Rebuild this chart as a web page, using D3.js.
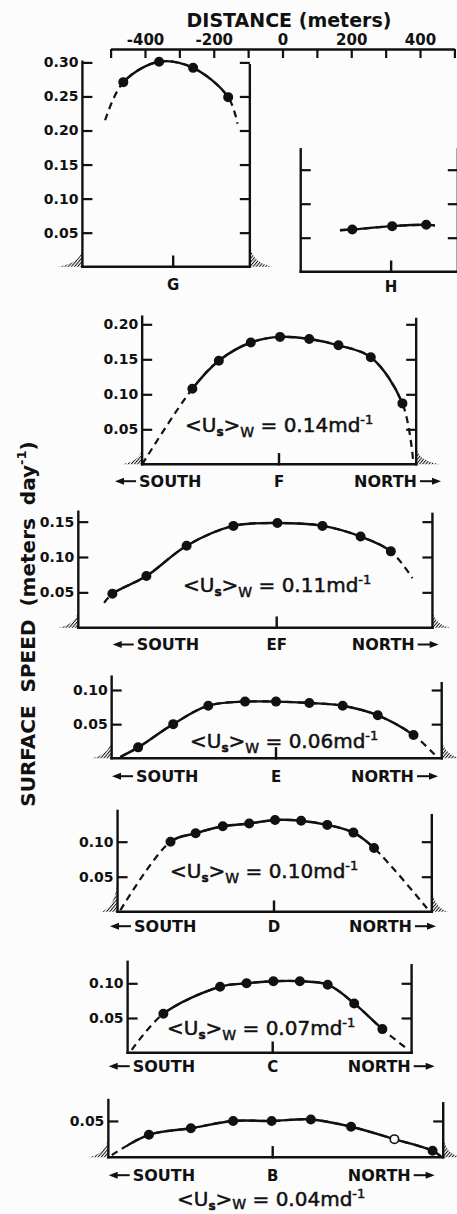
<!DOCTYPE html>
<html>
<head>
<meta charset="utf-8">
<script src="https://cdn.jsdelivr.net/npm/d3@7"></script>
<style>
body { margin: 0; background: #fcfcfc; }
svg { display: block; }
text { font-family: "DejaVu Sans", sans-serif; fill: #111; }
</style>
</head>
<body>
<div id="chart"></div>
<script>
// distance along the top axis (meters)
var distTicks = [-500, -400, -300, -200, -100, 0, 100, 200, 300, 400, 500];
var distLabels = [-400, -200, 0, 200, 400];

// width-averaged speed printed in each panel (m/day)
var meanNames = ["F", "EF", "E", "D", "C", "B"];
var meanValues = [0.14, 0.11, 0.06, 0.10, 0.07, 0.04];

// profiles: distance (m) from section centre, surface speed (m/day)
var distG = [-463, -359, -260, -158];
var speedG = [0.271, 0.301, 0.292, 0.249];
var endsG = [[-516, 0.215], [-131, 0.210]];
var edgesG = [-582, -95];
var ticksG = [0.05, 0.10, 0.15, 0.20, 0.25, 0.30];

var distH = [203, 319, 418];
var speedH = [0.062, 0.067, 0.069];
var endsH = [[167, 0.061], [444, 0.068]];
var edgesH = [53, 510];
var ticksH = [0.05, 0.10, 0.15];

var distF = [-252, -175, -82, 3, 88, 173, 267, 359];
var speedF = [0.108, 0.148, 0.174, 0.182, 0.179, 0.170, 0.153, 0.087];
var endsF = [[-398, 0.0], [390, 0.006]];
var edgesF = [-398, 399];
var ticksF = [0.05, 0.10, 0.15, 0.20];

var distEF = [-478, -379, -262, -126, 2, 133, 244, 332];
var speedEF = [0.048, 0.073, 0.116, 0.144, 0.148, 0.144, 0.129, 0.108];
var endsEF = [[-502, 0.035], [395, 0.070]];
var edgesEF = [-577, 453];
var ticksEF = [0.05, 0.10, 0.15];

var distE = [-401, -299, -197, -90, 0, 97, 194, 296, 400];
var speedE = [0.016, 0.050, 0.077, 0.083, 0.083, 0.081, 0.077, 0.063, 0.034];
var endsE = [[-453, 0.002], [468, 0.002]];
var edgesE = [-478, 482];
var ticksE = [0.05, 0.10];

var distD = [-301, -228, -149, -72, 3, 79, 155, 231, 291];
var speedD = [0.100, 0.112, 0.122, 0.126, 0.131, 0.130, 0.124, 0.113, 0.091];
var endsD = [[-447, 0.002], [445, 0.005]];
var edgesD = [-455, 459];
var ticksD = [0.05, 0.10];

var distC = [-318, -153, -76, 2, 79, 160, 237, 319];
var speedC = [0.056, 0.095, 0.100, 0.103, 0.103, 0.098, 0.071, 0.034];
var endsC = [[-410, 0.004], [395, 0.004]];
var edgesC = [-422, 404];
var ticksC = [0.05, 0.10];

var distB = [-360, -238, -115, -3, 111, 228, 354, 465];
var speedB = [0.031, 0.040, 0.050, 0.050, 0.052, 0.042, 0.025, 0.009];
var endsB = [[-468, 0.003], [490, 0.001]];
var edgesB = [-478, 496];
var ticksB = [0.05];
var openB = [354];

function pts(d, s) { return d.map((v, i) => [v, s[i]]); }

// panel table (y0 = baseline px, ppu = px per m/day, shift = scan drift)
var panels = [
  {name: "G", pts: pts(distG, speedG), ends: endsG, edges: edgesG, ticks: ticksG, solid: [distG[0], distG[3]],
   centre: -318, y0: 266.7, ppu: 681, shift: 0, top: [0.301, 0.296], lab: 23, tickText: true, hatch: [[25, 17], [23, 21]]},
  {name: "H", pts: pts(distH, speedH), ends: endsH, edges: edgesH, ticks: ticksH, solid: [167, 444],
   centre: 316, y0: 271.7, ppu: 680, shift: 0, top: [0.18, 0.18], lab: 20, tickText: false, hatch: null},
  {name: "F", pts: pts(distF, speedF), ends: endsF, edges: edgesF, ticks: ticksF, solid: [-252, 359],
   centre: 0, y0: 464.3, ppu: 700, shift: -3.5, top: [0.211, 0.2076], lab: 22.4, tickText: true, sides: true,
   eq: [185, 432], hatch: [[20, 15], [24, 16]]},
  {name: "EF", pts: pts(distEF, speedEF), ends: endsEF, edges: edgesEF, ticks: ticksEF, solid: [-478, 332],
   centre: 0, y0: 627.7, ppu: 707, shift: -5.8, top: [0.164, 0.161], lab: 22.3, tickText: true, sides: true,
   eq: [183, 592], hatch: [[20, 17], [18, 16]]},
  {name: "E", pts: pts(distE, speedE), ends: endsE, edges: edgesE, ticks: ticksE, solid: [-453, 400],
   centre: 0, y0: 758.3, ppu: 683, shift: -6.5, top: [0.1195, 0.110], lab: 23.4, tickText: true, sides: true,
   eq: [190, 748], hatch: [[20, 18], [20, 18]]},
  {name: "D", pts: pts(distD, speedD), ends: endsD, edges: edgesD, ticks: ticksD, solid: [-301, 291],
   centre: 0, y0: 911.7, ppu: 700, shift: -8.5, top: [0.144, 0.138], lab: 20, tickText: true, sides: true,
   eq: [170, 878], hatch: [[17, 30], [17, 22]]},
  {name: "C", pts: pts(distC, speedC), ends: endsC, edges: edgesC, ticks: ticksC, solid: [-318, 319],
   centre: 0, y0: 1052.7, ppu: 694, shift: -9.8, top: [0.131, 0.126], lab: 19, tickText: true, sides: true,
   eq: [167, 1035], hatch: null},
  {name: "B", pts: pts(distB, speedB), ends: endsB, edges: edgesB, ticks: ticksB, solid: [-423, 490],
   centre: 0, y0: 1157.3, ppu: 727, shift: -9.8, top: [0.0788, 0.0743], lab: 23.4, tickText: true, sides: true,
   eq: [177, 1206], subDy: 3, hatch: [[20, 19], [18, 19]], open: openB}
];

var W = 457, H = 1214;
var svg = d3.select("#chart").append("svg").attr("width", W).attr("height", H);
svg.append("rect").attr("width", W).attr("height", H).attr("fill", "#fcfcfc");

var defs = svg.append("defs");
var pat = defs.append("pattern").attr("id", "hatch").attr("patternUnits", "userSpaceOnUse")
  .attr("width", 2.4).attr("height", 2.4).attr("patternTransform", "rotate(40)");
pat.append("line").attr("x1", 0).attr("y1", 0).attr("x2", 0).attr("y2", 2.4)
  .attr("stroke", "#111").attr("stroke-width", 2);

var x = d3.scaleLinear().domain([-500, 500]).range([110.6, 454.4]);

// top distance axis
var topAxis = d3.axisTop(x).tickValues(distTicks).tickSize(-9).tickSizeOuter(0).tickPadding(4)
  .tickFormat(d => distLabels.includes(d) ? String(d) : "");
var ta = svg.append("g").attr("transform", "translate(0,49)").call(topAxis);
ta.attr("font-family", null).attr("font-size", null);
ta.select(".domain").attr("stroke", "#111").attr("stroke-width", 2.4);
ta.selectAll(".tick line").attr("stroke", "#111").attr("stroke-width", 2.2);
ta.selectAll(".tick text").attr("font-size", 15).attr("font-weight", "bold").attr("fill", "#111");

svg.append("text").attr("x", 289).attr("y", 27).attr("text-anchor", "middle")
  .attr("font-size", 19).attr("font-weight", "bold").text("DISTANCE (meters)");

// vertical title
var yl = svg.append("text").attr("transform", "translate(35,624) rotate(-90)")
  .attr("text-anchor", "middle").attr("font-size", 20).attr("font-weight", "bold").attr("word-spacing", 6);
yl.append("tspan").text("SURFACE SPEED (meters day");
yl.append("tspan").attr("font-size", 13).attr("dy", -9).text("-1");
yl.append("tspan").attr("dy", 9).text(")");

panels.forEach(function(p, idx) {
  var px = d => x(d) + p.shift;
  var y = d3.scaleLinear().domain([0, 1]).range([p.y0, p.y0 - p.ppu]);
  var g = svg.append("g");
  var xl = px(p.edges[0]), xr = px(p.edges[1]);

  // hatched valley walls
  if (p.hatch) {
    var hl = p.hatch[0], hr = p.hatch[1];
    g.append("path").attr("fill", "url(#hatch)")
      .attr("d", `M${xl},${y(0)}L${xl - hl[0]},${y(0)}Q${xl - 3},${y(0) - 3} ${xl},${y(0) - hl[1]}Z`);
    g.append("path").attr("fill", "url(#hatch)")
      .attr("d", `M${xr},${y(0)}L${xr + hr[0]},${y(0)}Q${xr + 3},${y(0) - 3} ${xr},${y(0) - hr[1]}Z`);
  }

  // frame: side walls and bottom
  var st = {stroke: "#111", "stroke-width": 2.4, "stroke-linecap": "square"};
  function line(x1, y1, x2, y2) {
    var l = g.append("line").attr("x1", x1).attr("y1", y1).attr("x2", x2).attr("y2", y2);
    Object.keys(st).forEach(k => l.attr(k, st[k]));
    return l;
  }
  line(xl, y(0), xl, y(p.top[0]));
  line(xr, y(0), xr, y(p.top[1]));
  line(xl, y(0), xr, y(0));
  line(px(p.centre), y(0), px(p.centre), y(0) - 10);

  // ticks
  var la = d3.axisLeft(y).tickValues(p.ticks).tickSize(-10).tickPadding(4)
    .tickFormat(p.tickText ? d3.format(".2f") : () => "");
  var lg = g.append("g").attr("transform", `translate(${xl},0)`).call(la);
  var ra = d3.axisRight(y).tickValues(p.ticks).tickSize(-10).tickFormat(() => "");
  var rg = g.append("g").attr("transform", `translate(${xr},0)`).call(ra);
  [lg, rg].forEach(a => {
    a.attr("font-family", null).attr("font-size", null);
    a.select(".domain").remove();
    a.selectAll(".tick line").attr("stroke", "#111").attr("stroke-width", 2.2);
    a.selectAll(".tick text").attr("font-size", 14).attr("font-weight", "bold").attr("fill", "#111");
  });

  // profile curve: dashed extrapolation, solid over the measured part
  var all = [p.ends[0]].concat(p.pts, [p.ends[1]]);
  var curve = d3.line().x(d => px(d[0])).y(d => y(d[1])).curve(d3.curveCatmullRom.alpha(0.5));
  g.append("path").attr("d", curve(all)).attr("fill", "none")
    .attr("stroke", "#111").attr("stroke-width", 2.2).attr("stroke-dasharray", "7,5");
  var cid = "clip" + idx;
  defs.append("clipPath").attr("id", cid).append("rect")
    .attr("x", px(p.solid[0])).attr("y", 0)
    .attr("width", px(p.solid[1]) - px(p.solid[0])).attr("height", H);
  g.append("path").attr("d", curve(all)).attr("fill", "none").attr("clip-path", `url(#${cid})`)
    .attr("stroke", "#111").attr("stroke-width", 2.4);

  g.selectAll("circle").data(p.pts).enter().append("circle")
    .attr("cx", d => px(d[0])).attr("cy", d => y(d[1])).attr("r", 4.2)
    .attr("fill", d => (p.open && p.open.includes(d[0])) ? "#fcfcfc" : "#111")
    .attr("stroke", "#111").attr("stroke-width", 1.6);

  // labels under the section
  var by = y(0) + p.lab, cx = px(p.centre);
  g.append("text").attr("x", cx).attr("y", by).attr("text-anchor", "middle")
    .attr("font-size", 15).attr("font-weight", "bold").text(p.name);

  if (p.sides) {
    var sx = cx - 140, nx = cx + 138, ay = by - 5.5;
    g.append("text").attr("x", sx).attr("y", by).attr("font-size", 16).attr("font-weight", "bold").text("SOUTH");
    g.append("text").attr("x", nx).attr("y", by).attr("text-anchor", "end")
      .attr("font-size", 16).attr("font-weight", "bold").text("NORTH");
    g.append("path").attr("d", `M${sx - 3},${ay}H${sx - 18}`).attr("stroke", "#111").attr("stroke-width", 2);
    g.append("path").attr("d", `M${sx - 24},${ay}L${sx - 15},${ay - 3.5}L${sx - 15},${ay + 3.5}Z`).attr("fill", "#111");
    g.append("path").attr("d", `M${nx + 3},${ay}H${nx + 18}`).attr("stroke", "#111").attr("stroke-width", 2);
    g.append("path").attr("d", `M${nx + 24},${ay}L${nx + 15},${ay - 3.5}L${nx + 15},${ay + 3.5}Z`).attr("fill", "#111");

    var v = meanValues[meanNames.indexOf(p.name)];
    var sd = p.subDy || 5;
    var t = g.append("text").attr("x", p.eq[0]).attr("y", p.eq[1]).attr("font-size", 20)
      .attr("stroke", "#111").attr("stroke-width", 0.5);
    t.append("tspan").text("<U");
    t.append("tspan").attr("font-size", 12).attr("font-weight", "bold").attr("dy", 4).text("s");
    t.append("tspan").attr("dy", -4).text(">");
    t.append("tspan").attr("font-size", 14).attr("dy", sd).text("W");
    t.append("tspan").attr("dy", -sd).text(" = " + v.toFixed(2) + "md");
    t.append("tspan").attr("font-size", 13).attr("dy", -8).text("-1");
  }
});
</script>
</body>
</html>
